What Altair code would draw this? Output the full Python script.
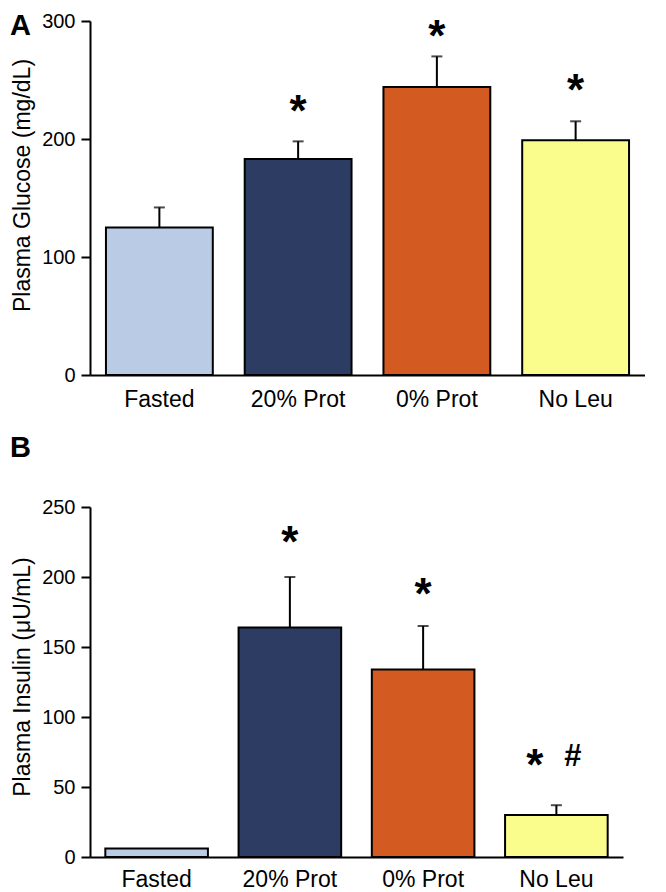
import altair as alt
import pandas as pd

# ---- data ----
groups = ["Fasted", "20% Prot", "0% Prot", "No Leu"]
bar_colors = ["#bacbe6", "#2c3c62", "#d35a20", "#fafc8c"]

glucose_mean = [125, 183, 244, 199]
glucose_sem = [17, 15, 26, 16]

insulin_mean = [6, 164, 134, 30]
insulin_sem = [0, 36, 31, 7]

# significance marks (value = vertical centre of the symbol)
glucose_star_groups = ["20% Prot", "0% Prot", "No Leu"]
glucose_star_y = [232, 296, 250]
insulin_star_groups = ["20% Prot", "0% Prot"]
insulin_star_y = [232, 195]
insulin_pair_groups = ["No Leu"]
insulin_pair_y = [73]

FONT = "Liberation Sans"
STAR_FS = 44
HASH_FS = 31


def panel(means, sems, ymax, ystep, ytitle, width, height, letter, letter_y,
          star_groups, star_y, label_pad, title_y, pair_groups=None, pair_y=None):
    df = pd.DataFrame({
        "group": groups,
        "mean": means,
        "sem": sems,
        "top": [m + s for m, s in zip(means, sems)],
    })
    xscale = alt.Scale(domain=groups, paddingInner=0.23, paddingOuter=0.115)
    xaxis = alt.Axis(title=None, labelAngle=0, ticks=False, labelFontSize=23,
                     labelColor="black", labelPadding=label_pad, domainColor="black",
                     domainWidth=2, labelFont=FONT)
    yscale = alt.Scale(domain=[0, ymax], nice=False, zero=True)
    yaxis = alt.Axis(title=ytitle, values=list(range(0, ymax + 1, ystep)),
                     grid=False, tickSize=9, tickWidth=2, tickColor="black",
                     domainColor="black", domainWidth=2, labelFontSize=20,
                     labelColor="black", labelPadding=6, titleFontSize=23,
                     titleFontWeight="normal", titleColor="black",
                     titlePadding=7, titleY=title_y, labelFont=FONT, titleFont=FONT)

    X = alt.X("group:N", sort=groups, scale=xscale, axis=xaxis)

    base = alt.Chart(df)
    err = base.transform_filter("datum.sem > 0").mark_rule(
        color="black", strokeWidth=2).encode(
        x=X, y=alt.Y("mean:Q", scale=yscale, axis=yaxis), y2="top:Q")
    cap = base.transform_filter("datum.sem > 0").mark_tick(
        color="black", thickness=2, size=11).encode(
        x=X, y=alt.Y("top:Q", scale=yscale, axis=yaxis))
    bars = base.mark_bar(stroke="black", strokeWidth=2).encode(
        x=X, y=alt.Y("mean:Q", scale=yscale, axis=yaxis),
        color=alt.Color("group:N", scale=alt.Scale(domain=groups, range=bar_colors),
                        legend=None))

    sdf = pd.DataFrame({"group": star_groups, "y": star_y, "sym": ["*"] * len(star_groups)})
    stars = alt.Chart(sdf).mark_text(
        font=FONT, fontSize=STAR_FS, fontWeight="bold", baseline="alphabetic",
        dy=0.57 * STAR_FS, color="black").encode(
        x=X, y=alt.Y("y:Q", scale=yscale, axis=yaxis), text="sym:N")

    layers = [err, bars, cap, stars]

    if pair_groups:
        pdf = pd.DataFrame({"group": pair_groups, "y": pair_y,
                            "star": ["*"] * len(pair_groups),
                            "hash": ["#"] * len(pair_groups)})
        pstar = alt.Chart(pdf).mark_text(
            font=FONT, fontSize=STAR_FS, fontWeight="bold", baseline="alphabetic",
            dy=0.57 * STAR_FS, dx=-21.5, color="black").encode(
            x=X, y=alt.Y("y:Q", scale=yscale, axis=yaxis), text="star:N")
        phash = alt.Chart(pdf).mark_text(
            font=FONT, fontSize=HASH_FS, fontWeight="bold", baseline="alphabetic",
            dy=0.35 * HASH_FS, dx=16.5, color="black").encode(
            x=X, y=alt.Y("y:Q", scale=yscale, axis=yaxis), text="hash:N")
        layers += [pstar, phash]

    ldf = pd.DataFrame({"t": [letter]})
    lab = alt.Chart(ldf).mark_text(
        font=FONT, fontSize=29, fontWeight="bold", align="left",
        baseline="alphabetic", color="black").encode(
        text="t:N", x=alt.value(-80), y=alt.value(letter_y))
    layers.append(lab)

    return alt.layer(*layers).properties(width=width, height=height)


panel_a = panel(glucose_mean, glucose_sem, 300, 100, "Plasma Glucose (mg/dL)",
                555, 354, "A", 14, glucose_star_groups, glucose_star_y,
                label_pad=13, title_y=164)
panel_b = panel(insulin_mean, insulin_sem, 250, 50, "Plasma Insulin (\u03bcU/mL)",
                533, 350, "B", -50, insulin_star_groups, insulin_star_y,
                label_pad=11, title_y=169.5,
                pair_groups=insulin_pair_groups, pair_y=insulin_pair_y)

chart = (
    alt.vconcat(panel_a, panel_b, spacing=23)
    .properties(padding={"left": 2, "top": 3, "right": 0, "bottom": 0},
                background="white")
    .configure(font=FONT)
    .configure_view(strokeWidth=0, stroke="transparent")
)

chart.save("out.html", embed_options={"renderer": "svg", "actions": False})
